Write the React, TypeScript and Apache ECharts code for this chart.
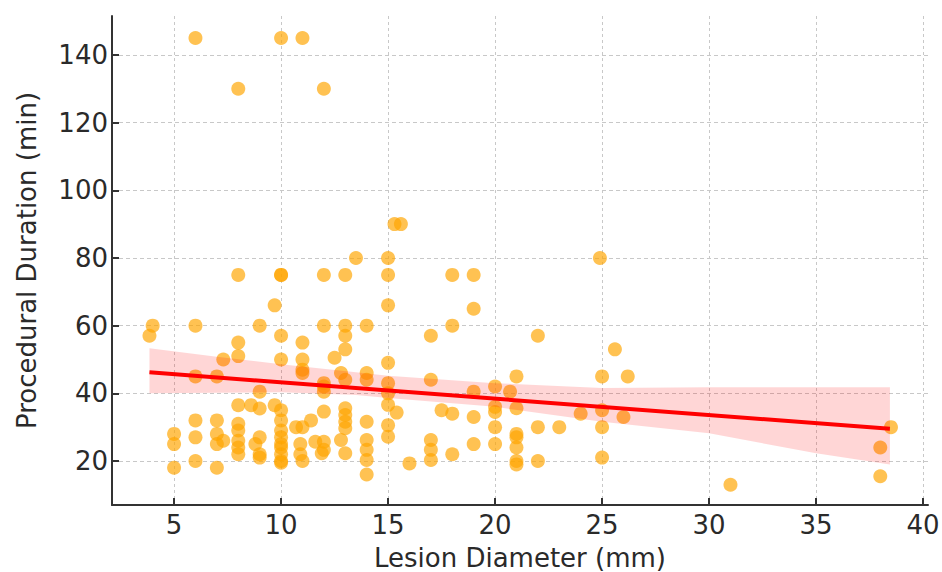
import React, { useEffect, useRef } from "react";
import * as echarts from "echarts";

// Lesion diameter (mm) and procedural duration (min)
const diameters: number[] = [
  6, 10, 11, 8, 12,
  15.3, 15.6,
  13.5, 15, 24.9,
  8, 10, 10, 12, 13, 15, 18, 19,
  9.7, 15, 19,
  4, 6, 9, 12, 13, 14, 18,
  3.85, 10, 13, 17, 22,
  8, 11, 13, 25.6,
  8, 7.3, 10, 11, 12.5, 15,
  11, 6, 7, 11, 12.8, 14, 21, 25, 26.2,
  13, 14, 17, 12, 15, 12, 20,
  9, 12, 15, 19, 20.7,
  8, 8.6, 9.7, 15, 20, 21, 9, 10, 13, 17.5, 25, 12, 15.4, 18, 20, 24, 13, 19, 26,
  6, 7, 11.4, 10, 13, 14, 8, 15,
  10.7, 11, 20, 22, 23, 25, 38.5, 13, 8, 10,
  5, 7, 21, 6, 9, 10, 15, 21, 7.3, 8, 12.8, 14, 17, 11.6, 12, 5, 7, 8.8, 10, 10.9, 19, 20, 38, 8, 10, 21, 12, 14, 17,
  8, 9, 10, 10.9, 11.9, 13, 18, 9, 25, 10, 11, 6, 14, 17, 21, 22, 10, 16, 21,
  5, 7, 14, 38, 31,
];
const durations: number[] = [
  145, 145, 145, 130, 130,
  90, 90,
  80, 80, 80,
  75, 75, 75, 75, 75, 75, 75, 75,
  66, 66, 65,
  60, 60, 60, 60, 60, 60, 60,
  57, 57, 57, 57, 57,
  55, 55, 53, 53,
  51, 50, 50, 50, 50.5, 49,
  47, 45, 45, 46, 46, 46, 45, 45, 45,
  44, 44, 44, 43, 43, 42, 42,
  40.5, 40.5, 40, 40.5, 40.5,
  36.5, 36.5, 36.5, 36.6, 36, 35.6, 35.5, 35, 35.6, 35, 35, 34.6, 34.3, 34, 34.5, 34, 33.6, 33, 33,
  32, 32, 32, 32, 31.6, 31.6, 31, 30.6,
  30, 30, 30, 30, 30, 30, 30, 29.7, 29, 29,
  28, 28, 28, 27, 27, 27, 27.2, 27, 26, 26, 26.2, 26.2, 26.2, 25.7, 25.7, 25, 25, 25, 25, 25, 25, 25, 24, 24, 24, 24, 23.3, 23.3, 23.3,
  22, 22, 22, 22, 22.3, 22.3, 22, 21, 21, 20, 20, 20, 20.3, 20.3, 20, 20, 19.5, 19.3, 19,
  18, 18, 16, 15.5, 13,
];

// Regression line end points and confidence band
const regX: number[] = [3.85, 38.45];
const regY: number[] = [46.2, 29.5];
const bandX: number[] = [3.85, 7, 10, 13.5, 15, 20, 25, 30, 35, 38.45];
const bandHigh: number[] = [53.3, 50.8, 48.6, 46.2, 45.2, 43, 41.6, 41.8, 41.8, 41.8];
const bandLow: number[] = [40, 40.2, 40.3, 39.5, 38.6, 36, 31.6, 28.2, 22.3, 19];

const xTicks: number[] = [5, 10, 15, 20, 25, 30, 35, 40];
const yTicks: number[] = [20, 40, 60, 80, 100, 120, 140];

const FONT = "DejaVu Sans";

export default function App() {
  const ref = useRef<HTMLDivElement>(null);
  useEffect(() => {
    if (!ref.current) return;
    const chart = echarts.init(ref.current, null, { renderer: "svg" });
    const points = diameters.map((d, i) => [d, durations[i]]);
    const band = bandX.map((x, i) => [x, bandHigh[i], bandLow[i]]);
    const axisCommon = {
      type: "value" as const,
      nameLocation: "middle" as const,
      nameTextStyle: { fontFamily: FONT, fontSize: 26, color: "#2a2a2a" },
      axisLine: { show: true, onZero: false, lineStyle: { color: "#333", width: 2 } },
      axisLabel: { fontFamily: FONT, fontSize: 26, color: "#2a2a2a" },
    };
    chart.setOption({
      animation: false,
      backgroundColor: "#ffffff",
      grid: { left: 112, right: 14, top: 16, bottom: 67, containLabel: false, outerBoundsMode: "none" },
      xAxis: {
        ...axisCommon,
        min: 2.1,
        max: 40.23,
        name: "Lesion Diameter (mm)",
        nameGap: 40,
        axisTick: { show: true, inside: true, length: 7, customValues: xTicks, lineStyle: { color: "#333", width: 2 } },
        axisLabel: { ...axisCommon.axisLabel, customValues: xTicks, margin: 7 },
        splitLine: { show: true, lineStyle: { color: "#c8c8c8", width: 1, type: [3, 3] } },
      },
      yAxis: {
        ...axisCommon,
        min: 7.0,
        max: 151.5,
        name: "Procedural Duration (min)",
        nameGap: 72,
        axisTick: { show: true, inside: true, length: 7, customValues: yTicks, lineStyle: { color: "#333", width: 2 } },
        axisLabel: { ...axisCommon.axisLabel, customValues: yTicks, margin: 4 },
        splitLine: { show: true, lineStyle: { color: "#c8c8c8", width: 1, type: [4, 3] } },
      },
      series: [
        {
          type: "scatter",
          data: points,
          symbolSize: 14,
          itemStyle: { color: "#FFA500", opacity: 0.68 },
          z: 2,
        },
        {
          type: "custom",
          data: band,
          encode: { x: 0, y: [1, 2] },
          clip: true,
          z: 3,
          renderItem: (params: any, api: any) => {
            if (params.dataIndex !== 0) return null;
            const pts: number[][] = [];
            for (let i = 0; i < bandX.length; i++) pts.push(api.coord([bandX[i], bandHigh[i]]));
            for (let i = bandX.length - 1; i >= 0; i--) pts.push(api.coord([bandX[i], bandLow[i]]));
            return {
              type: "polygon",
              shape: { points: pts },
              style: { fill: "rgba(255,0,0,0.16)", stroke: "none" },
            };
          },
        },
        {
          type: "line",
          data: regX.map((x, i) => [x, regY[i]]),
          showSymbol: false,
          lineStyle: { color: "#ff0000", width: 4 },
          z: 4,
        },
      ],
    });
    return () => chart.dispose();
  }, []);
  return (
    <div
      ref={ref}
      style={{ position: "fixed", left: 0, top: 0, width: 942, height: 572, background: "#fff" }}
    />
  );
}
